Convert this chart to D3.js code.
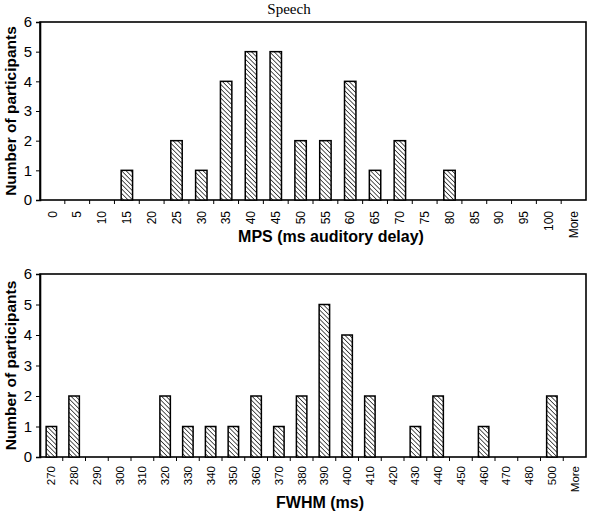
<!DOCTYPE html>
<html>
<head>
<meta charset="utf-8">
<script src="https://cdn.jsdelivr.net/npm/d3@7"></script>
<style>
  body { margin: 0; background: #fff; }
  svg { display: block; }
</style>
</head>
<body>
<svg id="chart" width="600" height="522"></svg>
<script>
// top histogram: MPS
var mpsBins = ["0","5","10","15","20","25","30","35","40","45","50","55","60","65","70","75","80","85","90","95","100","More"];
var mpsCounts = [0,0,0,1,0,2,1,4,5,5,2,2,4,1,2,0,1,0,0,0,0,0];

// bottom histogram: FWHM
var fwhmBins = ["270","280","290","300","310","320","330","340","350","360","370","380","390","400","410","420","430","440","450","460","470","480","500","More"];
var fwhmCounts = [1,2,0,0,0,2,1,1,1,2,1,2,5,4,2,0,1,2,0,1,0,0,2,0];

var yTicks = [0,1,2,3,4,5,6];

var svg = d3.select("#chart");

// hatch fill
var defs = svg.append("defs");
defs.append("pattern")
    .attr("id", "hatch")
    .attr("patternUnits", "userSpaceOnUse")
    .attr("width", 3.2)
    .attr("height", 3.2)
    .attr("patternTransform", "rotate(-45)")
  .call(function(p) {
    p.append("rect").attr("width", 3.2).attr("height", 3.2).attr("fill", "#fff");
    p.append("line").attr("x1", 0).attr("y1", 0).attr("x2", 0).attr("y2", 3.2)
      .attr("stroke", "#000").attr("stroke-width", 1.3);
  });

svg.append("text")
    .attr("x", 289).attr("y", 14)
    .attr("text-anchor", "middle")
    .style("font-family", "'Liberation Serif', 'Times New Roman', serif")
    .style("font-size", "15px")
    .text("Speech");

function histogram(bins, counts, top, bottom, labelSize, labelGap, xTitle, xTitleX, xTitleY) {
  var g = svg.append("g");
  var x = d3.scaleBand().domain(bins).range([40, 586]);
  var y = d3.scaleLinear().domain([0, 6]).range([bottom, top]);
  var bw = x.bandwidth() * 0.46;

  // frame
  g.append("rect")
      .attr("x", 40).attr("y", top)
      .attr("width", 546).attr("height", bottom - top)
      .attr("fill", "none").attr("stroke", "#000").attr("stroke-width", 1.6);

  // bars
  g.selectAll("rect.bar")
    .data(bins.map(function(b, i) { return {bin: b, n: counts[i]}; }).filter(function(d) { return d.n > 0; }))
    .enter().append("rect")
      .attr("class", "bar")
      .attr("x", function(d) { return x(d.bin) + (x.bandwidth() - bw) / 2; })
      .attr("y", function(d) { return y(d.n); })
      .attr("width", bw)
      .attr("height", function(d) { return y(0) - y(d.n); })
      .attr("fill", "url(#hatch)")
      .attr("stroke", "#000")
      .attr("stroke-width", 1.5);

  // y axis
  var ya = g.append("g")
      .attr("transform", "translate(40,0)")
      .call(d3.axisLeft(y).tickValues(yTicks).tickSize(4).tickPadding(4).tickFormat(d3.format("d")));
  ya.select(".domain").attr("stroke-width", 1.6);
  ya.selectAll("text")
      .style("font-family", "'Liberation Sans', Arial, sans-serif")
      .style("font-size", "15px")
      .attr("fill", "#000");

  // x axis: ticks on bin edges, labels rotated
  var xa = g.append("g")
      .attr("transform", "translate(0," + bottom + ")")
      .call(d3.axisBottom(x).tickSize(0).tickPadding(0));
  xa.select(".domain").remove();
  xa.selectAll("text")
      .attr("transform", "rotate(-90)")
      .attr("x", -labelGap).attr("y", 0).attr("dy", "0.35em")
      .style("text-anchor", "end")
      .style("font-family", "'Liberation Sans', Arial, sans-serif")
      .style("font-size", labelSize + "px")
      .attr("fill", "#000");

  g.selectAll("line.edge")
    .data(bins.slice(1))
    .enter().append("line")
      .attr("class", "edge")
      .attr("x1", function(d) { return x(d); })
      .attr("x2", function(d) { return x(d); })
      .attr("y1", bottom).attr("y2", bottom + 4)
      .attr("stroke", "#000").attr("stroke-width", 1);

  // titles
  g.append("text")
      .attr("transform", "translate(16," + ((top + bottom) / 2) + ") rotate(-90)")
      .attr("text-anchor", "middle")
      .style("font-family", "'Liberation Sans', Arial, sans-serif")
      .style("font-size", "15.5px")
      .style("font-weight", "bold")
      .text("Number of participants");

  g.append("text")
      .attr("x", xTitleX).attr("y", xTitleY)
      .attr("text-anchor", "middle")
      .style("font-family", "'Liberation Sans', Arial, sans-serif")
      .style("font-size", "16px")
      .style("font-weight", "bold")
      .text(xTitle);
}

histogram(mpsBins, mpsCounts, 22, 200, 12, 11, "MPS (ms auditory delay)", 331, 242);
histogram(fwhmBins, fwhmCounts, 274, 457, 11.5, 9, "FWHM (ms)", 320, 508);
</script>
</body>
</html>
